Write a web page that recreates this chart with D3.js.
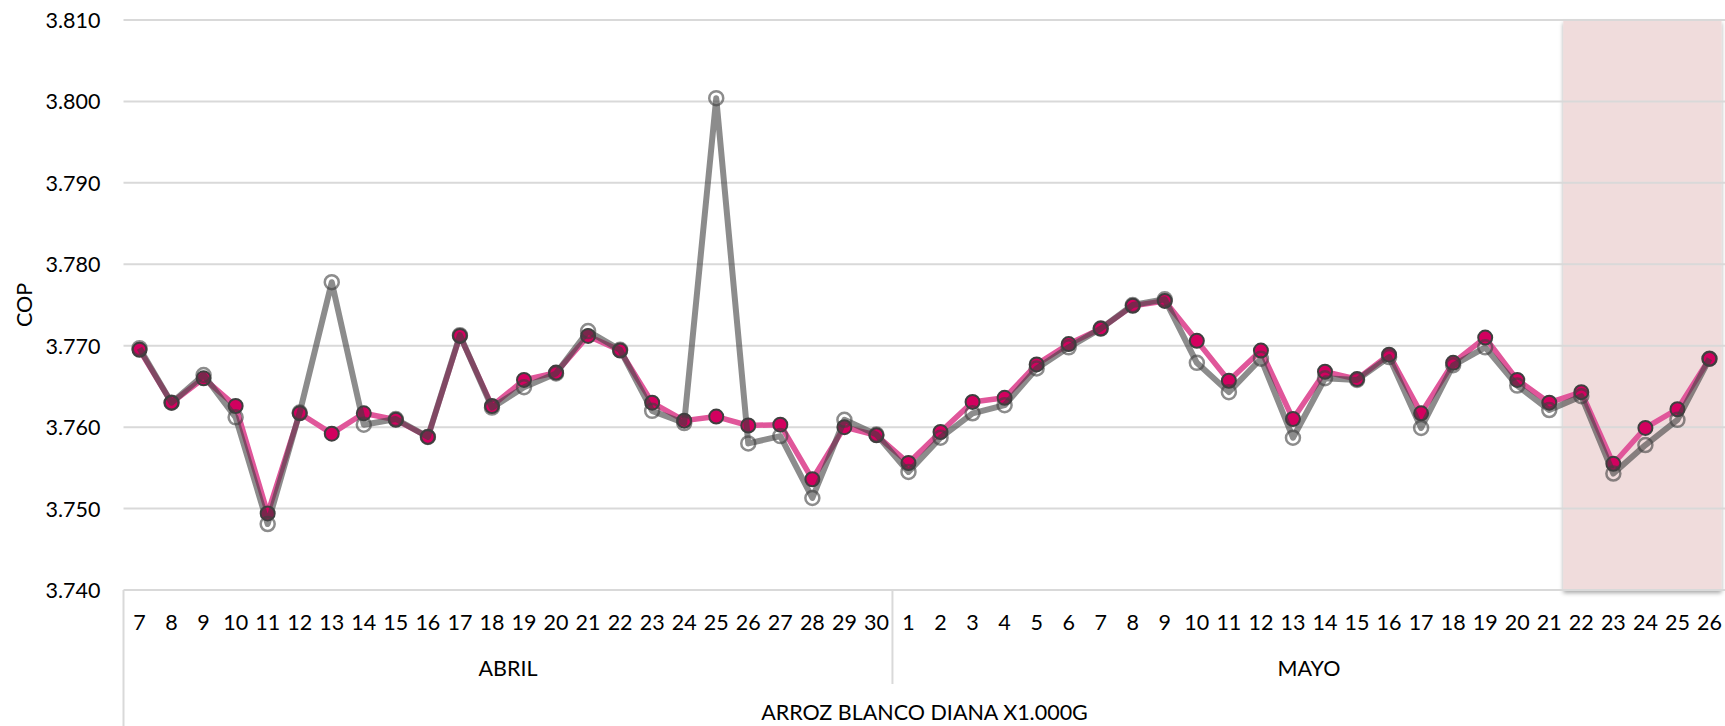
<!DOCTYPE html>
<html>
<head>
<meta charset="utf-8">
<script src="https://cdn.jsdelivr.net/npm/d3@7"></script>
<style>
  html, body { margin: 0; padding: 0; background: #ffffff; }
  svg { display: block; }
  text { font-family: Lato, "Open Sans", sans-serif; fill: #000; }
</style>
</head>
<body>
<svg id="chart" width="1725" height="726"></svg>
<script>
// ---------------- data ----------------
const productName = "ARROZ BLANCO DIANA X1.000G";
const months = ["ABRIL", "MAYO"];
const daysAbril = [7,8,9,10,11,12,13,14,15,16,17,18,19,20,21,22,23,24,25,26,27,28,29,30];
const daysMayo  = [1,2,3,4,5,6,7,8,9,10,11,12,13,14,15,16,17,18,19,20,21,22,23,24,25,26];

// pink series (filled markers)
const serieRosaAbril = [3769.5,3763.0,3766.0,3762.6,3749.4,3761.7,3759.2,3761.7,3760.9,3758.8,3771.2,3762.6,3765.8,3766.7,3771.2,3769.4,3763.0,3760.8,3761.3,3760.2,3760.3,3753.6,3760.0,3759.0];
const serieRosaMayo  = [3755.6,3759.4,3763.1,3763.6,3767.7,3770.2,3772.1,3774.9,3775.5,3770.6,3765.7,3769.4,3761.0,3766.8,3765.9,3768.9,3761.7,3767.9,3771.0,3765.8,3763.0,3764.3,3755.5,3759.9,3762.2,3768.4];

// gray series (hollow markers)
const serieGrisAbril = [3769.7,3763.0,3766.4,3761.2,3748.1,3761.8,3777.8,3760.3,3761.0,3758.8,3771.3,3762.4,3764.9,3766.6,3771.8,3769.5,3762.0,3760.5,3800.4,3758.0,3758.9,3751.3,3760.9,3759.1];
const serieGrisMayo  = [3754.5,3758.7,3761.7,3762.7,3767.2,3769.8,3772.1,3775.0,3775.7,3767.9,3764.3,3768.4,3758.7,3766.0,3765.8,3768.6,3759.9,3767.6,3769.8,3765.1,3762.1,3763.8,3754.3,3757.8,3760.9,3768.4];

const yTicks = [3740,3750,3760,3770,3780,3790,3800,3810];
const yTitle = "COP";
// highlighted period (shaded band)
const highlightFrom = {month: "MAYO", day: 22};
const highlightTo   = {month: "MAYO", day: 26};

// ---------------- build rows ----------------
const rows = [];
daysAbril.forEach((d, i) => rows.push({month: "ABRIL", day: d, key: "ABRIL-" + d, rosa: serieRosaAbril[i], gris: serieGrisAbril[i]}));
daysMayo.forEach((d, i) => rows.push({month: "MAYO", day: d, key: "MAYO-" + d, rosa: serieRosaMayo[i], gris: serieGrisMayo[i]}));

// ---------------- layout ----------------
const W = 1725, H = 726;
const plot = {left: 123.5, right: 1725.5, top: 20, bottom: 590};
const svg = d3.select("#chart");

const x = d3.scaleBand().domain(rows.map(r => r.key)).range([plot.left, plot.right]).padding(0);
const y = d3.scaleLinear().domain([3740, 3810]).range([plot.bottom, plot.top]);
const cx = k => x(k) + x.bandwidth() / 2;

const es = d3.formatLocale({decimal: ",", thousands: ".", grouping: [3], currency: ["$", ""]});
const fmt = es.format(",.0f");

// shadow filter
const defs = svg.append("defs");
const f = defs.append("filter").attr("id", "shadow").attr("x", "-10%").attr("y", "-10%").attr("width", "120%").attr("height", "120%");
f.append("feDropShadow").attr("dx", 0).attr("dy", 3).attr("stdDeviation", 2).attr("flood-color", "#000").attr("flood-opacity", 0.35);

// shaded highlight
const hx0 = x(highlightFrom.month + "-" + highlightFrom.day) - 2;
const hx1 = x(highlightTo.month + "-" + highlightTo.day) + x.bandwidth() - 4;
svg.append("rect")
  .attr("x", hx0).attr("y", plot.top)
  .attr("width", hx1 - hx0).attr("height", plot.bottom - plot.top)
  .attr("fill", "#f0dcdc")
  .attr("filter", "url(#shadow)");

// gridlines
svg.append("g").selectAll("line").data(yTicks).join("line")
  .attr("x1", plot.left).attr("x2", plot.right)
  .attr("y1", d => y(d)).attr("y2", d => y(d))
  .attr("stroke", "#d9d9d9").attr("stroke-width", 2);

// y tick labels
svg.append("g").selectAll("text").data(yTicks).join("text")
  .attr("x", 100.5).attr("y", d => y(d))
  .attr("text-anchor", "end").attr("dominant-baseline", "central")
  .attr("font-size", 21.5)
  .text(d => fmt(d));

// y title
svg.append("text")
  .attr("transform", `translate(24,${(plot.top + plot.bottom) / 2}) rotate(-90)`)
  .attr("text-anchor", "middle").attr("dominant-baseline", "central")
  .attr("font-size", 21.5)
  .text(yTitle);

// category axis box lines
const axisG = svg.append("g").attr("stroke", "#d9d9d9").attr("stroke-width", 2);
axisG.append("line").attr("x1", plot.left).attr("x2", plot.left).attr("y1", plot.bottom).attr("y2", H);
const firstMayo = "MAYO-" + daysMayo[0];
axisG.append("line").attr("x1", x(firstMayo)).attr("x2", x(firstMayo)).attr("y1", plot.bottom).attr("y2", 684);

// day labels
svg.append("g").selectAll("text").data(rows).join("text")
  .attr("x", d => cx(d.key)).attr("y", 621.5)
  .attr("text-anchor", "middle").attr("dominant-baseline", "central")
  .attr("font-size", 21.5)
  .text(d => d.day);

// month labels
months.forEach(m => {
  const ks = rows.filter(r => r.month === m).map(r => r.key);
  const a = x(ks[0]), b = x(ks[ks.length - 1]) + x.bandwidth();
  svg.append("text")
    .attr("x", (a + b) / 2).attr("y", 667.5)
    .attr("text-anchor", "middle").attr("dominant-baseline", "central")
    .attr("font-size", 21.5)
    .text(m);
});

// product label
svg.append("text")
  .attr("x", (plot.left + plot.right) / 2).attr("y", 712)
  .attr("text-anchor", "middle").attr("dominant-baseline", "central")
  .attr("font-size", 21.5)
  .text(productName);

// ---------------- series ----------------
const lineRosa = d3.line().x(d => cx(d.key)).y(d => y(d.rosa));
const lineGris = d3.line().x(d => cx(d.key)).y(d => y(d.gris));

svg.append("path").datum(rows)
  .attr("d", lineRosa).attr("fill", "none")
  .attr("stroke", "#e0569a").attr("stroke-width", 5.5).attr("stroke-linejoin", "round");

svg.append("g").selectAll("circle").data(rows).join("circle")
  .attr("cx", d => cx(d.key)).attr("cy", d => y(d.rosa)).attr("r", 7)
  .attr("fill", "#d3005f").attr("stroke", "#3f3f3f").attr("stroke-width", 2);

const grisG = svg.append("g");
grisG.append("path").datum(rows)
  .attr("d", lineGris).attr("fill", "none")
  .attr("stroke", "#404040").attr("stroke-opacity", 0.6)
  .attr("stroke-width", 6).attr("stroke-linejoin", "round");

grisG.append("g").selectAll("circle").data(rows).join("circle")
  .attr("cx", d => cx(d.key)).attr("cy", d => y(d.gris)).attr("r", 7)
  .attr("fill", "none").attr("stroke", "#404040").attr("stroke-opacity", 0.6).attr("stroke-width", 2.5);
</script>
</body>
</html>
